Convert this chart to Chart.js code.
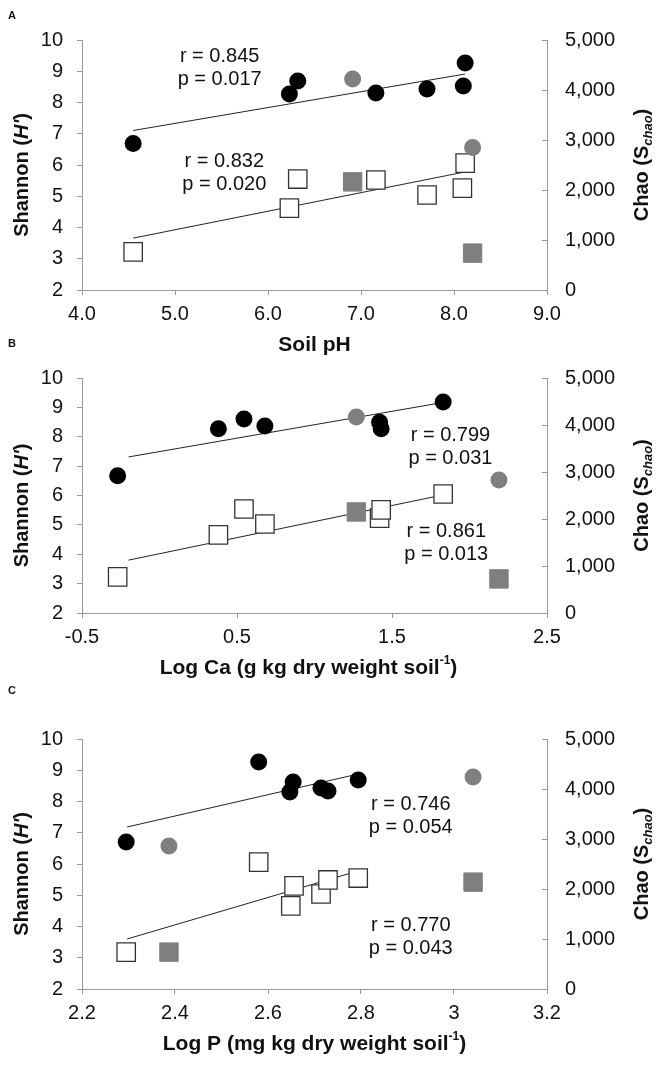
<!DOCTYPE html>
<html>
<head>
<meta charset="utf-8">
<script src="https://cdn.jsdelivr.net/npm/chart.js@4.4.1/dist/chart.umd.min.js"></script>
<style>
  body { margin: 0; background: #fff; }
  #wrap { position: relative; width: 666px; height: 1066px; background: #fff; overflow: hidden; }
  canvas { position: absolute; left: 0; }
  .tag { position: absolute; left: 8px; font: bold 11px "Liberation Sans", Arial, sans-serif; color: #111; }
</style>
</head>
<body>
<div id="wrap">
  <canvas id="cA" width="666" height="360" style="top:0px"></canvas>
  <canvas id="cB" width="666" height="353" style="top:330px"></canvas>
  <canvas id="cC" width="666" height="369" style="top:690px"></canvas>
  <div class="tag" style="top:9px">A</div>
  <div class="tag" style="top:337px">B</div>
  <div class="tag" style="top:684px">C</div>
</div>
<script>
// Ticks shared by all panels
const shannonTicks = [2, 3, 4, 5, 6, 7, 8, 9, 10];
const chaoTicks = [0, 1000, 2000, 3000, 4000, 5000];
const chaoTickLabels = ['0', '1,000', '2,000', '3,000', '4,000', '5,000'];

// A: soil pH
const phTicks = [4, 5, 6, 7, 8, 9];
const phTickLabels = ['4.0', '5.0', '6.0', '7.0', '8.0', '9.0'];
const phChaoX = [4.55, 6.23, 6.32, 7.16, 7.71, 8.10, 8.12];
const phChao = [2930, 3920, 4180, 3940, 4020, 4080, 4540];
const phChaoOutX = [6.91, 8.20];
const phChaoOut = [4220, 2850];
const phShanX = [4.55, 6.23, 6.32, 7.16, 7.71, 8.09, 8.12];
const phShan = [3.22, 4.62, 5.55, 5.52, 5.04, 5.26, 6.06];
const phShanOutX = [6.91, 8.20];
const phShanOut = [5.46, 3.18];
const phChaoFitX = [4.55, 8.12];
const phChaoFit = [3190, 4320];
const phShanFitX = [4.55, 8.12];
const phShanFit = [3.66, 5.78];
const phStats = [['r = 0.845', 'p = 0.017'], ['r = 0.832', 'p = 0.020']];

// B: log Ca
const caTicks = [-0.5, 0.5, 1.5, 2.5];
const caTickLabels = ['-0.5', '0.5', '1.5', '2.5'];
const caChaoX = [-0.27, 0.38, 0.545, 0.68, 1.42, 1.43, 1.83];
const caChao = [2920, 3920, 4130, 3980, 4060, 3920, 4490];
const caChaoOutX = [1.27, 2.19];
const caChaoOut = [4170, 2830];
const caShanX = [-0.27, 0.38, 0.545, 0.68, 1.42, 1.43, 1.83];
const caShan = [3.23, 4.66, 5.54, 5.03, 5.23, 5.51, 6.05];
const caShanOutX = [1.27, 2.19];
const caShanOut = [5.44, 3.16];
const caChaoFitX = [-0.2, 1.83];
const caChaoFit = [3320, 4480];
const caShanFitX = [-0.2, 1.83];
const caShanFit = [3.80, 6.02];
const caStats = [['r = 0.799', 'p = 0.031'], ['r = 0.861', 'p = 0.013']];

// C: log P
const pTicks = [2.2, 2.4, 2.6, 2.8, 3.0, 3.2];
const pTickLabels = ['2.2', '2.4', '2.6', '2.8', '3', '3.2'];
const pChaoX = [2.295, 2.58, 2.647, 2.654, 2.714, 2.729, 2.794];
const pChao = [2940, 4540, 3940, 4140, 4020, 3960, 4180];
const pChaoOutX = [2.387, 3.041];
const pChaoOut = [2860, 4240];
const pShanX = [2.295, 2.58, 2.649, 2.656, 2.714, 2.729, 2.794];
const pShan = [3.18, 6.06, 4.66, 5.30, 5.04, 5.49, 5.55];
const pShanOutX = [2.387, 3.041];
const pShanOut = [3.18, 5.42];
const pChaoFitX = [2.297, 2.794];
const pChaoFit = [3240, 4300];
const pShanFitX = [2.297, 2.794];
const pShanFit = [3.60, 5.78];
const pStats = [['r = 0.746', 'p = 0.054'], ['r = 0.770', 'p = 0.043']];

const FAM = '"Liberation Sans", Arial, sans-serif';
const B21 = 'bold 21px ' + FAM;
const B20 = 'bold 20px ' + FAM;
const TXT = '#111';
const AXIS = '#999';
const GRAY = '#7f7f7f';

function zip(xs, ys) {
  return xs.map((x, i) => ({ x: x, y: ys[i] }));
}

// texte riche (indices, exposants, italique)
function drawRich(ctx, parts, cx, cy, rotate) {
  ctx.save();
  ctx.translate(cx, cy);
  if (rotate) ctx.rotate(-Math.PI / 2);
  let total = 0;
  parts.forEach(p => { ctx.font = p.font; total += ctx.measureText(p.t).width; });
  let x = -total / 2;
  ctx.textBaseline = 'middle';
  ctx.textAlign = 'left';
  ctx.fillStyle = TXT;
  parts.forEach(p => {
    ctx.font = p.font;
    ctx.fillText(p.t, x, p.dy || 0);
    x += ctx.measureText(p.t).width;
  });
  ctx.restore();
}

const shannonTitle = [
  { t: 'Shannon (', font: B20 },
  { t: "H'", font: 'italic ' + B20 },
  { t: ')', font: B20 }
];
const chaoTitle = [
  { t: 'Chao (S', font: B20 },
  { t: 'chao', font: 'italic bold 13px ' + FAM, dy: 6 },
  { t: ')', font: B20 }
];

const decor = {
  id: 'decor',
  afterDraw(chart, args, opts) {
    const ctx = chart.ctx;
    const ca = chart.chartArea;
    const sx = chart.scales.x, sy = chart.scales.y, sy2 = chart.scales.y2;

    // petits traits du 2e axe, vers l'interieur
    ctx.save();
    ctx.strokeStyle = AXIS;
    ctx.lineWidth = 1;
    sy2.ticks.forEach(t => {
      const py = Math.round(sy2.getPixelForValue(t.value)) + 0.5;
      ctx.beginPath();
      ctx.moveTo(sy2.left - 5, py);
      ctx.lineTo(sy2.left, py);
      ctx.stroke();
    });
    ctx.restore();

    drawRich(ctx, opts.xTitle, (ca.left + ca.right) / 2 + (opts.xTitleShift || 0), sx.top + 55, false);
    drawRich(ctx, shannonTitle, 22, (ca.top + ca.bottom) / 2 + 10, true);
    drawRich(ctx, chaoTitle, 642, (ca.top + ca.bottom) / 2, true);

    ctx.save();
    ctx.font = '20px ' + FAM;
    ctx.fillStyle = TXT;
    ctx.textAlign = 'center';
    ctx.textBaseline = 'middle';
    opts.notes.forEach(n => {
      const px = sx.getPixelForValue(n.x);
      const py = sy.getPixelForValue(n.y);
      n.lines.forEach((ln, i) => ctx.fillText(ln, px, py + i * 23));
    });
    ctx.restore();
  }
};

function fixedTicks(vals) {
  return scale => { scale.ticks = vals.map(v => ({ value: v })); };
}

function makePanel(id, p) {
  const tickFont = { family: FAM, size: 20 };
  return new Chart(document.getElementById(id), {
    type: 'scatter',
    data: {
      datasets: [
        { data: zip(p.chaoX, p.chao), yAxisID: 'y2', pointStyle: 'circle', pointRadius: 8.5,
          backgroundColor: '#000', borderWidth: 0 },
        { data: zip(p.chaoOutX, p.chaoOut), yAxisID: 'y2', pointStyle: 'circle', pointRadius: 8.5,
          backgroundColor: GRAY, borderWidth: 0 },
        { data: zip(p.shanX, p.shan), yAxisID: 'y', pointStyle: 'rect', pointRadius: 13,
          backgroundColor: '#fff', borderColor: '#333', borderWidth: 1.3 },
        { data: zip(p.shanOutX, p.shanOut), yAxisID: 'y', pointStyle: 'rect', pointRadius: 13,
          backgroundColor: GRAY, borderColor: GRAY, borderWidth: 1 },
        { data: zip(p.chaoFitX, p.chaoFit), yAxisID: 'y2', showLine: true, pointRadius: 0,
          borderColor: '#222', borderWidth: 1 },
        { data: zip(p.shanFitX, p.shanFit), yAxisID: 'y', showLine: true, pointRadius: 0,
          borderColor: '#222', borderWidth: 1 }
      ]
    },
    options: {
      responsive: false,
      animation: false,
      events: [],
      layout: { padding: { top: p.padTop, left: 0, right: 0, bottom: 0 } },
      plugins: {
        legend: { display: false },
        tooltip: { enabled: false },
        decor: { xTitle: p.xTitle, xTitleShift: p.xTitleShift, notes: p.notes }
      },
      scales: {
        x: {
          type: 'linear', min: p.xTicks[0], max: p.xTicks[p.xTicks.length - 1],
          afterBuildTicks: fixedTicks(p.xTicks),
          afterFit: s => { s.height = 70; },
          grid: { drawOnChartArea: false, color: AXIS, tickLength: 5 },
          border: { color: AXIS },
          ticks: { font: tickFont, color: TXT, padding: 7, autoSkip: false, maxRotation: 0,
                   callback: (v, i) => p.xLabels[i] }
        },
        y: {
          position: 'left', min: 2, max: 10,
          afterBuildTicks: fixedTicks(shannonTicks),
          afterFit: s => { s.width = 82; },
          grid: { drawOnChartArea: false, color: AXIS, tickLength: 5 },
          border: { color: AXIS },
          ticks: { font: tickFont, color: TXT, padding: 14, callback: (v, i) => String(shannonTicks[i]) }
        },
        y2: {
          position: 'right', min: 0, max: 5000,
          afterBuildTicks: fixedTicks(chaoTicks),
          afterFit: s => { s.width = 119; },
          grid: { drawOnChartArea: false, drawTicks: false },
          border: { color: AXIS },
          ticks: { font: tickFont, color: TXT, padding: 18, callback: (v, i) => chaoTickLabels[i] }
        }
      }
    },
    plugins: [decor]
  });
}

const supFont = 'bold 12px ' + FAM;

makePanel('cA', {
  padTop: 40,
  xTicks: phTicks, xLabels: phTickLabels,
  chaoX: phChaoX, chao: phChao, chaoOutX: phChaoOutX, chaoOut: phChaoOut,
  shanX: phShanX, shan: phShan, shanOutX: phShanOutX, shanOut: phShanOut,
  chaoFitX: phChaoFitX, chaoFit: phChaoFit, shanFitX: phShanFitX, shanFit: phShanFit,
  xTitle: [{ t: 'Soil pH', font: B21 }],
  notes: [{ x: 5.48, y: 9.46, lines: phStats[0] }, { x: 5.53, y: 6.10, lines: phStats[1] }]
});

makePanel('cB', {
  padTop: 48,
  xTicks: caTicks, xLabels: caTickLabels,
  chaoX: caChaoX, chao: caChao, chaoOutX: caChaoOutX, chaoOut: caChaoOut,
  shanX: caShanX, shan: caShan, shanOutX: caShanOutX, shanOut: caShanOut,
  chaoFitX: caChaoFitX, chaoFit: caChaoFit, shanFitX: caShanFitX, shanFit: caShanFit,
  xTitle: [{ t: 'Log Ca (g kg dry weight soil', font: B21 }, { t: '-1', font: supFont, dy: -7 }, { t: ')', font: B21 }],
  xTitleShift: -6,
  notes: [{ x: 1.877, y: 8.06, lines: caStats[0] }, { x: 1.85, y: 4.79, lines: caStats[1] }]
});

makePanel('cC', {
  padTop: 49,
  xTicks: pTicks, xLabels: pTickLabels,
  chaoX: pChaoX, chao: pChao, chaoOutX: pChaoOutX, chaoOut: pChaoOut,
  shanX: pShanX, shan: pShan, shanOutX: pShanOutX, shanOut: pShanOut,
  chaoFitX: pChaoFitX, chaoFit: pChaoFit, shanFitX: pShanFitX, shanFit: pShanFit,
  xTitle: [{ t: 'Log P (mg kg dry weight soil', font: B21 }, { t: '-1', font: supFont, dy: -7 }, { t: ')', font: B21 }],
  notes: [{ x: 2.907, y: 7.92, lines: pStats[0] }, { x: 2.907, y: 4.02, lines: pStats[1] }]
});
</script>
</body>
</html>
